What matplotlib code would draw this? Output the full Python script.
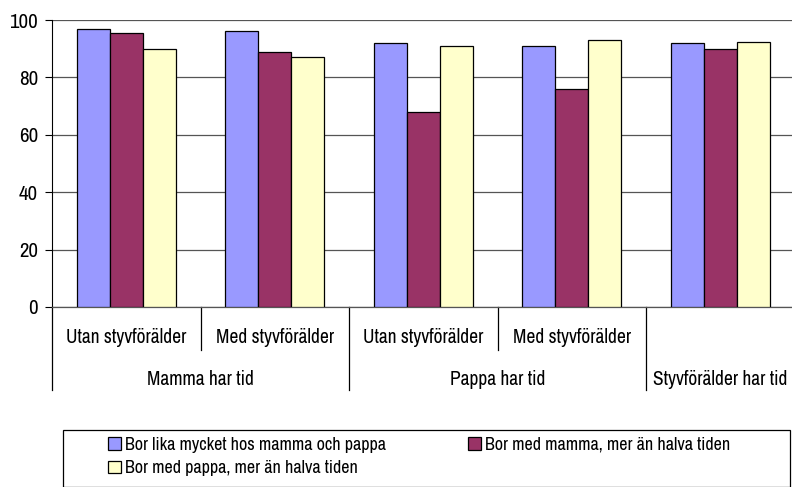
import matplotlib
matplotlib.use('Agg')
import matplotlib.pyplot as plt
from matplotlib.patches import Rectangle
import numpy as np

plt.rcParams['font.family'] = ['Archivo Narrow', 'DejaVu Sans']

sub_labels = ['Utan styvförälder', 'Med styvförälder', 'Utan styvförälder', 'Med styvförälder', '']
main_labels = ['Mamma har tid', 'Pappa har tid', 'Styvförälder har tid']
main_centers = [0.5, 2.5, 4.0]
series_names = ['Bor lika mycket hos mamma och pappa',
                'Bor med mamma, mer än halva tiden',
                'Bor med pappa, mer än halva tiden']
lika = [97, 96, 92, 91, 92]
mamma = [95.5, 89, 68, 76, 90]
pappa = [90, 87, 91, 93, 92.3]
colors = ['#9999FF', '#993366', '#FFFFCC']

W, H = 792, 487
fig = plt.figure(figsize=(W / 100, H / 100), dpi=100)
ax = fig.add_axes([52 / W, 1 - 307 / H, 742.5 / W, 287 / H])

x = np.arange(len(lika))
bw = 0.222
bars = []
for i, (vals, c) in enumerate(zip([lika, mamma, pappa], colors)):
    b = ax.bar(x + (i - 1) * bw, vals, bw, color=c, edgecolor='black',
               linewidth=0.9, label=series_names[i], zorder=3)
    bars.append(b)

ax.set_xlim(-0.5, 4.5)
ax.set_ylim(0, 100)
ax.set_yticks([0, 20, 40, 60, 80, 100])
ax.yaxis.grid(True, color='#555555', linewidth=0.9, zorder=0)
ax.set_xticks([])
for s in ['top', 'right']:
    ax.spines[s].set_visible(False)
ax.spines['left'].set_color('black')
ax.spines['bottom'].set_color('#555555')
ax.spines['bottom'].set_linewidth(0.9)
ax.tick_params(axis='y', length=5, labelsize=15, pad=5)
ax.axhline(100, color='#999999', linewidth=1.2, zorder=1)

# two-level category axis
trans = ax.get_xaxis_transform()
for xi, lab in zip(x, sub_labels):
    ax.text(xi, -0.108, lab, transform=trans, ha='center', va='center',
            fontsize=14, clip_on=False)
for xc, lab in zip(main_centers, main_labels):
    ax.text(xc, -0.254, lab, transform=trans, ha='center', va='center',
            fontsize=14, clip_on=False)
for xd in [0.5, 2.5]:
    ax.plot([xd, xd], [0, -0.15], transform=trans, color='black',
            linewidth=0.9, clip_on=False)
for xd in [-0.5, 1.5, 3.5]:
    ax.plot([xd, xd], [0, -0.289], transform=trans, color='black',
            linewidth=0.9, clip_on=False)

# legend (row-wise order: lika, mamma / pappa)
fig.patches.append(Rectangle((63 / W, 0), 727 / W, 57 / H, transform=fig.transFigure,
                             facecolor='none', edgecolor='black', linewidth=0.9))
order = [0, 2, 1]
fig.legend([bars[k] for k in order], [series_names[k] for k in order],
           ncol=2, loc='upper left',
           bbox_to_anchor=(108 / W, 1 - 437 / H), frameon=False,
           fontsize=13, handlelength=0.7, handleheight=0.7,
           handletextpad=0.25, columnspacing=4.55, labelspacing=0.4,
           borderpad=0, borderaxespad=0)

fig.savefig('out.png', dpi=100)
